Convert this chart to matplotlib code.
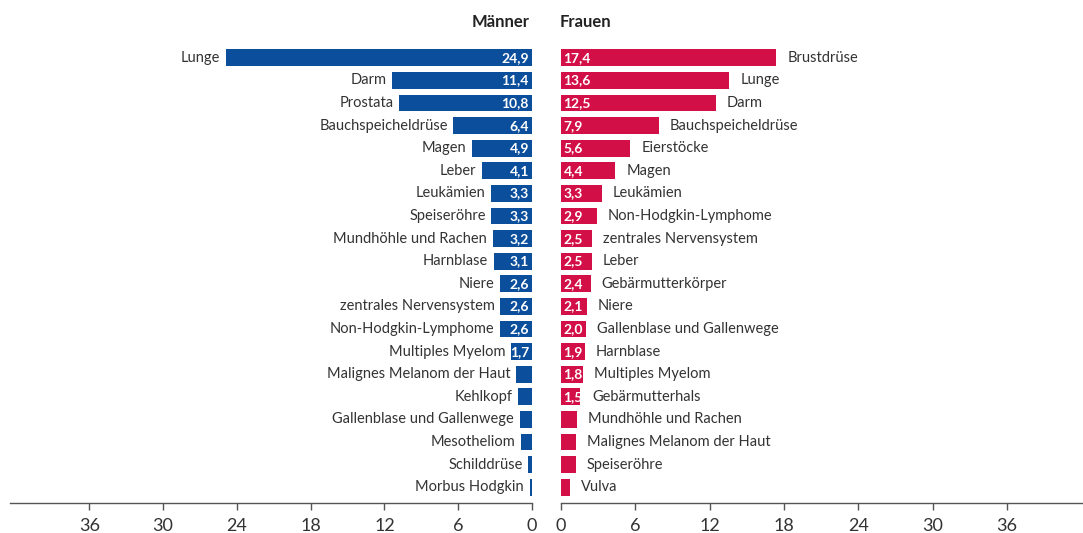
import matplotlib.pyplot as plt
import numpy as np

plt.rcParams['font.family'] = ['Lato', 'DejaVu Sans']

# Männer
m_labels = ['Lunge', 'Darm', 'Prostata', 'Bauchspeicheldrüse', 'Magen', 'Leber',
            'Leukämien', 'Speiseröhre', 'Mundhöhle und Rachen', 'Harnblase', 'Niere',
            'zentrales Nervensystem', 'Non-Hodgkin-Lymphome', 'Multiples Myelom',
            'Malignes Melanom der Haut', 'Kehlkopf', 'Gallenblase und Gallenwege',
            'Mesotheliom', 'Schilddrüse', 'Morbus Hodgkin']
m_values = [24.9, 11.4, 10.8, 6.4, 4.9, 4.1, 3.3, 3.3, 3.2, 3.1, 2.6, 2.6, 2.6, 1.7,
            1.3, 1.1, 1.0, 0.9, 0.3, 0.2]

# Frauen
f_labels = ['Brustdrüse', 'Lunge', 'Darm', 'Bauchspeicheldrüse', 'Eierstöcke', 'Magen',
            'Leukämien', 'Non-Hodgkin-Lymphome', 'zentrales Nervensystem', 'Leber',
            'Gebärmutterkörper', 'Niere', 'Gallenblase und Gallenwege', 'Harnblase',
            'Multiples Myelom', 'Gebärmutterhals', 'Mundhöhle und Rachen',
            'Malignes Melanom der Haut', 'Speiseröhre', 'Vulva']
f_values = [17.4, 13.6, 12.5, 7.9, 5.6, 4.4, 3.3, 2.9, 2.5, 2.5, 2.4, 2.1, 2.0, 1.9,
            1.8, 1.5, 1.3, 1.2, 1.2, 0.7]

ticks = [0, 6, 12, 18, 24, 30, 36]
blue = '#0b4f9c'
red = '#d20f46'
txt = '#333333'

W, H = 1083, 533
fig = plt.figure(figsize=(W / 100, H / 100), dpi=100)
axL = fig.add_axes([10 / W, 30 / H, 522 / W, 461 / H])
axR = fig.add_axes([561 / W, 30 / H, 522 / W, 461 / H])

y = np.arange(len(m_values))


def fmt(v):
    return f'{v:.1f}'.replace('.', ',')


for ax, vals, labs, col, side in [(axL, m_values, m_labels, blue, 'L'),
                                  (axR, f_values, f_labels, red, 'R')]:
    ax.barh(y, vals, height=0.75, color=col)
    ax.set_ylim(len(vals) - 0.3, -0.7)
    if side == 'L':
        ax.set_xlim(42.45, 0)
    else:
        ax.set_xlim(0, 42.15)
    ax.set_xticks(ticks)
    ax.set_yticks([])
    for s in ['top', 'left', 'right']:
        ax.spines[s].set_visible(False)
    ax.spines['bottom'].set_color('#555555')
    ax.spines['bottom'].set_linewidth(1.0)
    ax.tick_params(axis='x', length=5, width=1, color='#555555', colors=txt,
                   labelsize=13, pad=6)
    for i, (v, lab) in enumerate(zip(vals, labs)):
        has_val = v >= 1.5
        if side == 'L':
            if has_val:
                ax.text(0.25, i, fmt(v), ha='right', va='center', color='white',
                        fontsize=10, fontweight='bold')
            ax.annotate(lab, (v, i), xytext=(-4, 0), textcoords='offset points',
                        ha='right', va='center', fontsize=10.5, color=txt)
        else:
            if has_val:
                ax.text(0.2, i, fmt(v), ha='left', va='center', color='white',
                        fontsize=10, fontweight='bold')
            end = max(v, 1.6) if has_val else v
            ax.annotate(lab, (end, i), xytext=(8, 0), textcoords='offset points',
                        ha='left', va='center', fontsize=10.5, color=txt)

fig.text(530 / W, 1 - 22 / H, 'Männer', ha='right', va='center', fontsize=12,
         fontweight='bold', color='#222222')
fig.text(560 / W, 1 - 22 / H, 'Frauen', ha='left', va='center', fontsize=12,
         fontweight='bold', color='#222222')

fig.savefig('out.png', dpi=100)
